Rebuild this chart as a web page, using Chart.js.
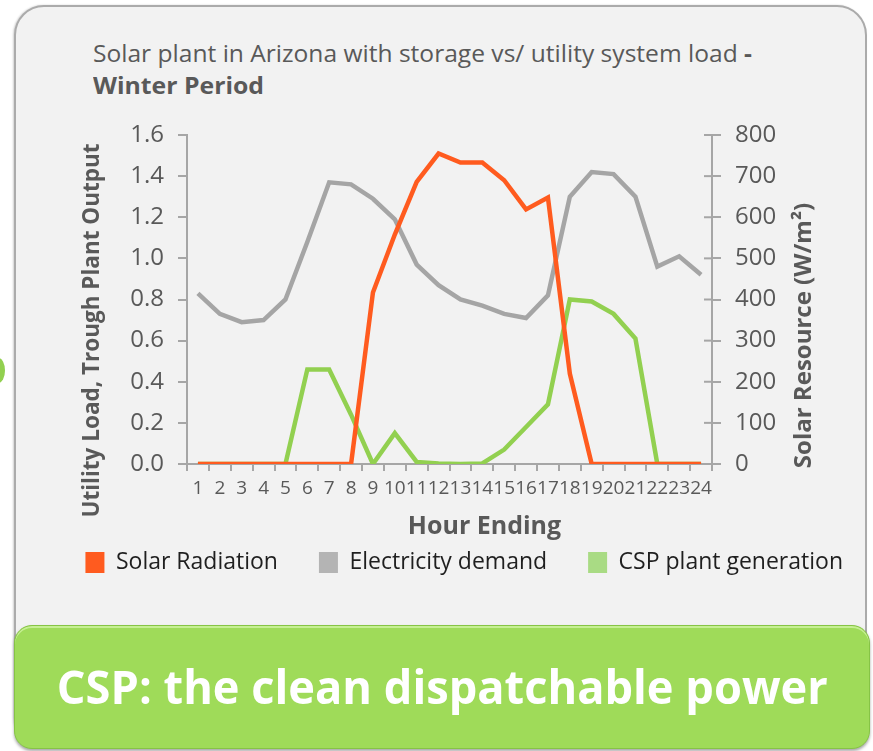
<!DOCTYPE html>
<html><head><meta charset="utf-8">
<script src="https://cdn.jsdelivr.net/npm/chart.js@4.4.0/dist/chart.umd.min.js"></script>
<style>
html,body{margin:0;padding:0;width:873px;height:751px;overflow:hidden;background:#fff;font-family:'Open Sans',sans-serif;}
#panel{position:absolute;left:14px;top:5px;width:853px;height:742px;background:#F2F2F2;border:2px solid #ABABAB;border-radius:30px;box-sizing:border-box;box-shadow:-1px 0 2px rgba(0,0,0,0.18);}
#dot{position:absolute;left:-8px;top:358px;width:13px;height:25px;background:#92D050;border-radius:50%;}
#title{position:absolute;left:93px;top:37px;color:#595959;font-size:23px;line-height:32px;white-space:nowrap;}
#title div span{display:inline-block;transform-origin:left center;}
#cw{position:absolute;left:0;top:0;width:873px;height:751px;overflow:hidden;}
#banner{position:absolute;left:14px;top:625px;width:856px;height:124px;background:#9FDB59;border:1px solid #86C445;border-radius:18px;box-sizing:border-box;box-shadow:inset 0 2px 0 #C6EF93,0 2px 3px rgba(0,0,0,0.35);}
#btxt{position:absolute;left:0;top:0;width:100%;height:120px;display:flex;align-items:center;justify-content:center;}
#btxt span{display:inline-block;color:#fff;font-weight:700;font-size:46px;white-space:nowrap;transform-origin:center center;}
</style>
</head><body>
<div id="panel"></div>
<div id="dot"></div>
<div id="title"><div><span id="t1">Solar plant in Arizona with storage vs/ utility system load <b>-</b></span></div><div><span id="t2"><b>Winter Period</b></span></div></div>
<div id="cw"><canvas id="c" width="873" height="751"></canvas></div>
<div id="banner"><div id="btxt"><span id="bt">CSP: the clean dispatchable power</span></div></div>
<script>
const hours = ['1','2','3','4','5','6','7','8','9','10','11','12','13','14','15','16','17','18','19','20','21','22','23','24'];
const solarRadiation = [0,0,0,0,0,0,0,0,417,558,686,755,733,733,690,619,648,220,0,0,0,0,0,0];
const electricityDemand = [0.83,0.73,0.69,0.70,0.80,1.08,1.37,1.36,1.29,1.19,0.97,0.87,0.80,0.77,0.73,0.71,0.82,1.30,1.42,1.41,1.30,0.96,1.01,0.92];
const cspGeneration = [0,0,0,0,0,0.46,0.46,0.24,0,0.15,0.01,0.003,0,0.003,0.07,0.18,0.29,0.80,0.79,0.73,0.61,0,0,0];
const leftTicks = ['0.0','0.2','0.4','0.6','0.8','1.0','1.2','1.4','1.6'];
const seriesNames = ['Solar Radiation','Electricity demand','CSP plant generation'];
const lineColors = ['#FF5B1F','#A5A5A5','#92D050'];
const swatchColors = ['#FF5B1F','#B4B4B4','#A9DB84'];
const axisTitles = {x:'Hour Ending', y:'Utility Load, Trough Plant Output', y1:'Solar Resource (W/m\u00B2)'};

function fit(el,w){const cw=el.getBoundingClientRect().width;el.style.transform='scaleX('+(w/cw)+')';}
fit(document.getElementById('t1'),659);
fit(document.getElementById('t2'),171);
fit(document.getElementById('bt'),771);

const extras = {
  id:'extras',
  afterDraw(chart){
    const ctx=chart.ctx, a=chart.chartArea;
    ctx.save();
    const s=chart.scales.y1;
    ctx.strokeStyle='#A6A6A6'; ctx.lineWidth=2;
    s.ticks.forEach(t=>{const y=s.getPixelForValue(t.value);ctx.beginPath();ctx.moveTo(a.right-8,y);ctx.lineTo(a.right,y);ctx.stroke();});
    ctx.fillStyle='#595959'; ctx.textAlign='center'; ctx.textBaseline='middle';
    ctx.font='bold 25px "Open Sans"';
    ctx.fillText(chart.options.scales.x.title.text,(a.left+a.right)/2+35,a.bottom+63);
    ctx.font='bold 22.5px "Open Sans"';
    ctx.save(); ctx.translate(93,(a.top+a.bottom)/2+31); ctx.rotate(-Math.PI/2);
    ctx.fillText(chart.options.scales.y.title.text,0,0); ctx.restore();
    ctx.font='bold 24px "Open Sans"';
    ctx.save(); ctx.translate(804,(a.top+a.bottom)/2+36); ctx.rotate(-Math.PI/2);
    ctx.fillText(chart.options.scales.y1.title.text,0,0); ctx.restore();
    ctx.restore();
  }
};

const gridOpts = {drawOnChartArea:false,drawTicks:true,tickLength:9,color:'#A6A6A6',lineWidth:2};
new Chart(document.getElementById('c'),{
  type:'line',
  data:{labels:hours,datasets:[
    {label:seriesNames[0],data:solarRadiation,yAxisID:'y1',borderColor:lineColors[0],backgroundColor:swatchColors[0],borderWidth:4.5,pointRadius:0,tension:0,fill:false},
    {label:seriesNames[1],data:electricityDemand,yAxisID:'y',borderColor:lineColors[1],backgroundColor:swatchColors[1],borderWidth:4.5,pointRadius:0,tension:0,fill:false},
    {label:seriesNames[2],data:cspGeneration,yAxisID:'y',borderColor:lineColors[2],backgroundColor:swatchColors[2],borderWidth:4.5,pointRadius:0,tension:0,fill:false}
  ]},
  options:{
    responsive:false,animation:false,
    layout:{padding:{left:0,right:-11,top:135,bottom:167}},
    plugins:{
      title:{display:false},tooltip:{enabled:false},
      legend:{position:'bottom',align:'end',labels:{boxWidth:19,boxHeight:21,padding:41,color:'#1F1F1F',font:{family:'"Open Sans"',size:23},
        generateLabels(chart){return chart.data.datasets.map((d,i)=>({text:d.label,fillStyle:swatchColors[i],strokeStyle:'rgba(0,0,0,0)',lineWidth:0,hidden:false,datasetIndex:i,fontColor:'#1F1F1F'}));}}}
    },
    scales:{
      x:{type:'category',offset:true,title:{display:false,text:axisTitles.x},
        grid:{offset:true,drawOnChartArea:false,drawTicks:true,tickLength:7,color:'#A6A6A6',lineWidth:2},
        border:{color:'#A6A6A6',width:2},
        ticks:{autoSkip:false,maxRotation:0,minRotation:0,padding:6,color:'#595959',font:{family:'"Open Sans"',size:19}},
        afterFit(s){s.height=46;}},
      y:{position:'left',min:0,max:1.6,title:{display:false,text:axisTitles.y},
        grid:gridOpts,border:{color:'#A6A6A6',width:2},
        ticks:{stepSize:0.2,padding:14,color:'#595959',font:{family:'"Open Sans"',size:24},callback:(v,i)=>leftTicks[i]},
        afterFit(s){s.width=187;}},
      y1:{position:'right',min:0,max:800,title:{display:false,text:axisTitles.y1},
        grid:gridOpts,border:{color:'#A6A6A6',width:2},
        ticks:{stepSize:100,padding:14,color:'#595959',font:{family:'"Open Sans"',size:24}},
        afterFit(s){s.width=172;}}
    }
  },
  plugins:[extras]
});
</script>
</body></html>
